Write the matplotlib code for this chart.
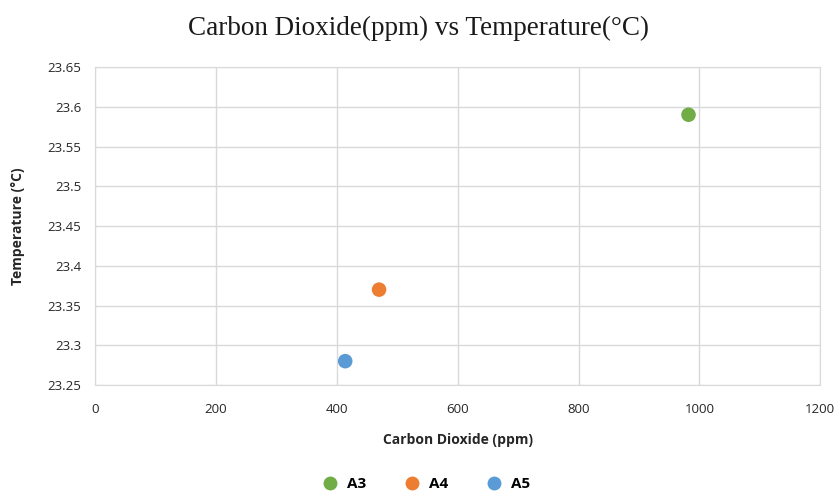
import matplotlib.pyplot as plt
from matplotlib.lines import Line2D

# Données
labels = ['A3', 'A4', 'A5']
co2 = [982, 470, 414]
temp = [23.59, 23.37, 23.28]
colors = ['#70ad47', '#ed7d31', '#5b9bd5']

yticks = [23.25, 23.3, 23.35, 23.4, 23.45, 23.5, 23.55, 23.6, 23.65]
ytick_labels = ['23.25', '23.3', '23.35', '23.4', '23.45', '23.5', '23.55', '23.6', '23.65']
xticks = [0, 200, 400, 600, 800, 1000, 1200]

plt.rcParams['font.family'] = ['Open Sans', 'DejaVu Sans']

fig = plt.figure(figsize=(8.37, 4.95), dpi=100)
ax = fig.add_axes([0.1135, 0.2222, 0.8665, 0.6424])

for x, y, c, l in zip(co2, temp, colors, labels):
    ax.scatter(x, y, s=110, color=c, label=l, zorder=3, edgecolors='none')

ax.set_xlim(0, 1200)
ax.set_ylim(23.25, 23.65)
ax.set_xticks(xticks)
ax.set_yticks(yticks)
ax.set_yticklabels(ytick_labels)
ax.grid(True, color='#d9d9d9', linewidth=1)
ax.set_axisbelow(True)
for s in ax.spines.values():
    s.set_color('#d9d9d9')
ax.tick_params(length=0, labelsize=9.5, colors='#262626', pad=10)
ax.tick_params(axis='x', pad=13)

ax.set_xlabel('Carbon Dioxide (ppm)', fontsize=10, fontweight='bold', color='#262626', labelpad=12)
ax.set_ylabel('Temperature (°C)', fontsize=10, fontweight='bold', color='#262626', labelpad=16)
fig.suptitle('Carbon Dioxide(ppm) vs Temperature(°C)', family='Liberation Serif',
             fontsize=19.5, color='#1a1a1a', y=0.967)

handles = [Line2D([], [], marker='o', linestyle='', markersize=10, color=c, markeredgecolor='none')
           for c in colors]
fig.legend(handles, labels, loc='lower center', bbox_to_anchor=(0.505, -0.02), ncol=3, frameon=False,
           prop={'weight': 'bold', 'size': 11}, handletextpad=0.1, columnspacing=2.0)

plt.savefig('out.png')
